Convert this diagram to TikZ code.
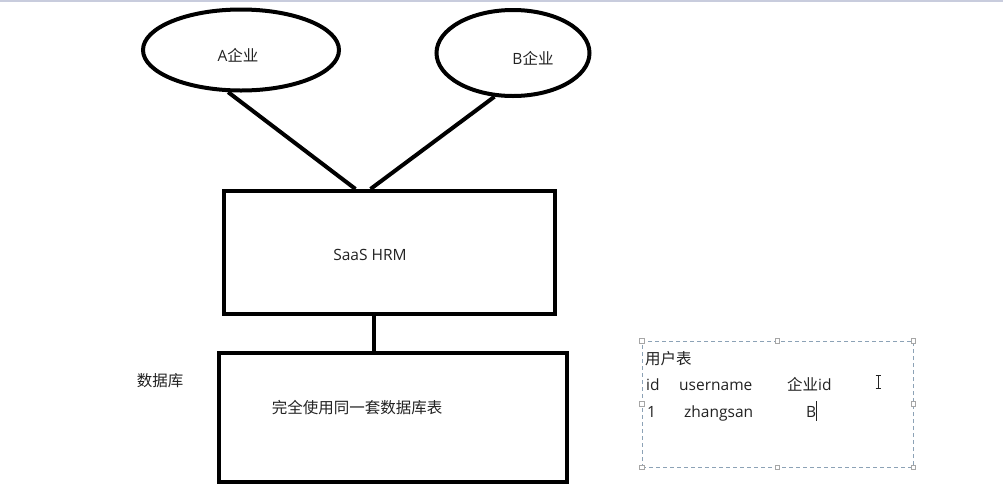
\documentclass[tikz,border=0pt]{standalone}
\usepackage{fontspec}
\setmainfont{Open Sans}
\newfontfamily\cjk{Noto Sans CJK SC}
\usetikzlibrary{shapes.geometric,calc}
\definecolor{topbar}{HTML}{C8CCDD}
\definecolor{dashc}{HTML}{8CA2B6}
\definecolor{txt}{HTML}{222222}
\tikzset{
  thick4/.style={line width=4pt},
  ell/.style={ellipse, draw, line width=4pt, inner sep=0pt},
  box/.style={rectangle, draw, line width=4pt, inner sep=0pt},
  lbl/.style={text=txt, inner sep=0pt, font=\fontsize{15.5}{18}\selectfont},
  handle/.style={rectangle, draw=gray!70, fill=white, line width=0.6pt, minimum size=4.5pt, inner sep=0pt},
  tblframe/.style={rectangle, draw=dashc, dash pattern=on 4pt off 3pt, line width=0.9pt, inner sep=0pt}
}
\begin{document}
\begin{tikzpicture}[x=1pt,y=-1pt]
\useasboundingbox (0,0) rectangle (1003,491);
\fill[white] (0,0) rectangle (1003,491);
\fill[topbar] (0,0) rectangle (1003,1.8);

% ellipses
\node[ell, minimum width=196pt, minimum height=81pt] (A) at (241,50) {};
\node[ell, minimum width=153pt, minimum height=86pt] (B) at (513,53) {};
\node[lbl] (Alab) at (238,55) {A{\cjk 企业}};
\node[lbl] (Blab) at (533,58) {B{\cjk 企业}};

% boxes
\node[box, minimum width=331pt, minimum height=123pt] (hrm) at (389.5,252.5) {};
\node[lbl] (hrmlab) at (370,255) {SaaS HRM};
\node[box, minimum width=348pt, minimum height=129pt] (db) at (393,417.5) {};
\node[lbl] (dblab) at (357,408) {\cjk 完全使用同一套数据库表};
\node[lbl] (dbside) at (160,381) {\cjk 数据库};

% connectors
\draw[thick4] (A.253) -- ([xshift=-34pt]hrm.north);
\draw[thick4] (B.247) -- ([xshift=-19pt]hrm.north);
\draw[thick4] ([xshift=-15.5pt]hrm.south) -- ([xshift=-15.5pt]hrm.south |- db.north);

% table text box
\node[tblframe, minimum width=271pt, minimum height=126pt] (tbl) at (777.5,404) {};
\node[handle] (h1) at (tbl.north west) {};
\node[handle] (h2) at (tbl.north) {};
\node[handle] (h3) at (tbl.north east) {};
\node[handle] (h4) at (tbl.west) {};
\node[handle] (h5) at (tbl.east) {};
\node[handle] (h6) at (tbl.south west) {};
\node[handle] (h7) at (tbl.south) {};
\node[handle] (h8) at (tbl.south east) {};

\node[lbl, anchor=base west] (t0) at (645,364) {\cjk 用户表};
\node[lbl, anchor=base west] (t1a) at (646,390) {id};
\node[lbl, anchor=base west] (t1b) at (679,390) {username};
\node[lbl, anchor=base west] (t1c) at (787,390) {{\cjk 企业}id};
\node[lbl, anchor=base west] (t2a) at (647,417) {1};
\node[lbl, anchor=base west] (t2b) at (684,417) {zhangsan};
\node[lbl, anchor=base west] (t2c) at (806,417) {B};

% text caret and I-beam pointer
\draw[line width=1pt, txt] (816,401) -- (816,421);
\draw[line width=0.8pt, txt] (875.5,375) -- (880.5,375) (878,375) -- (878,388) (875.5,388) -- (880.5,388);
\end{tikzpicture}
\end{document}
